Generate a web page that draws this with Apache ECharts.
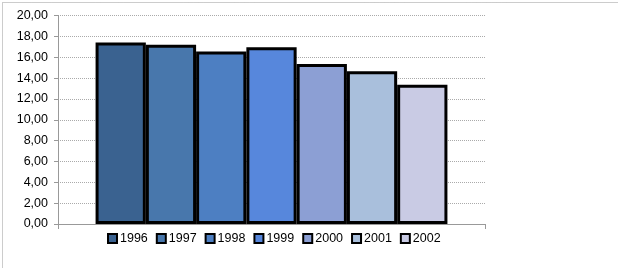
<!DOCTYPE html>
<html><head><meta charset="utf-8">
<script src="https://cdn.jsdelivr.net/npm/echarts@6/dist/echarts.min.js"></script>
<style>html,body{margin:0;padding:0;background:#fff}#c{width:618px;height:268px}</style>
</head><body><div id="c"></div>
<script>
const categories = [''];
const years = ['1996','1997','1998','1999','2000','2001','2002'];
const values = [17.4, 17.2, 16.55, 16.95, 15.35, 14.65, 13.35];
const colors = ['#3a6290','#4877ac','#4d7fc2','#5787dc','#8c9fd4','#a9bfdc','#c9cbe4'];
const yTicks = { min: 0, max: 20, interval: 2 };

const chart = echarts.init(document.getElementById('c'), null, { renderer: 'canvas' });
const font = 'Liberation Sans';
chart.setOption({
  animation: false,
  graphic: [{
    type: 'rect', left: 0, top: 0, z: 100,
    shape: { x: 0.5, y: 0.5, width: 617, height: 267 },
    style: { fill: 'none', stroke: '#999', lineWidth: 1, lineDash: [1, 1] }
  }],
  grid: { left: 58, right: 133, top: 15.5, bottom: 44 },
  legend: {
    data: years, left: 102, top: 227, itemWidth: 9, itemHeight: 9, itemGap: 8, icon: 'rect',
    textStyle: { fontFamily: font, fontSize: 12.5, color: '#000', padding: [0,0,0,-2] },
    itemStyle: { borderColor: '#000', borderWidth: 2 }
  },
  xAxis: {
    type: 'category', data: categories,
    axisLine: { lineStyle: { color: '#999' } },
    axisTick: { show: true, length: 5, lineStyle: { color: '#999' } },
    axisLabel: { show: false }
  },
  yAxis: {
    type: 'value', min: yTicks.min, max: yTicks.max, interval: yTicks.interval,
    axisLine: { show: true, lineStyle: { color: '#999' } },
    axisTick: { show: true, length: 4, lineStyle: { color: '#999' } },
    splitLine: { lineStyle: { color: '#aaa', type: [1, 1] } },
    axisLabel: { fontFamily: font, fontSize: 12.5, color: '#000', margin: 10,
      formatter: v => v.toFixed(2).replace('.', ',') }
  },
  series: years.map((y, i) => ({
    name: y, type: 'bar', data: [values[i]],
    barGap: '0%', barCategoryGap: '17.6%',
    itemStyle: { color: colors[i], borderColor: '#000', borderWidth: 3 }
  }))
});
</script></body></html>
